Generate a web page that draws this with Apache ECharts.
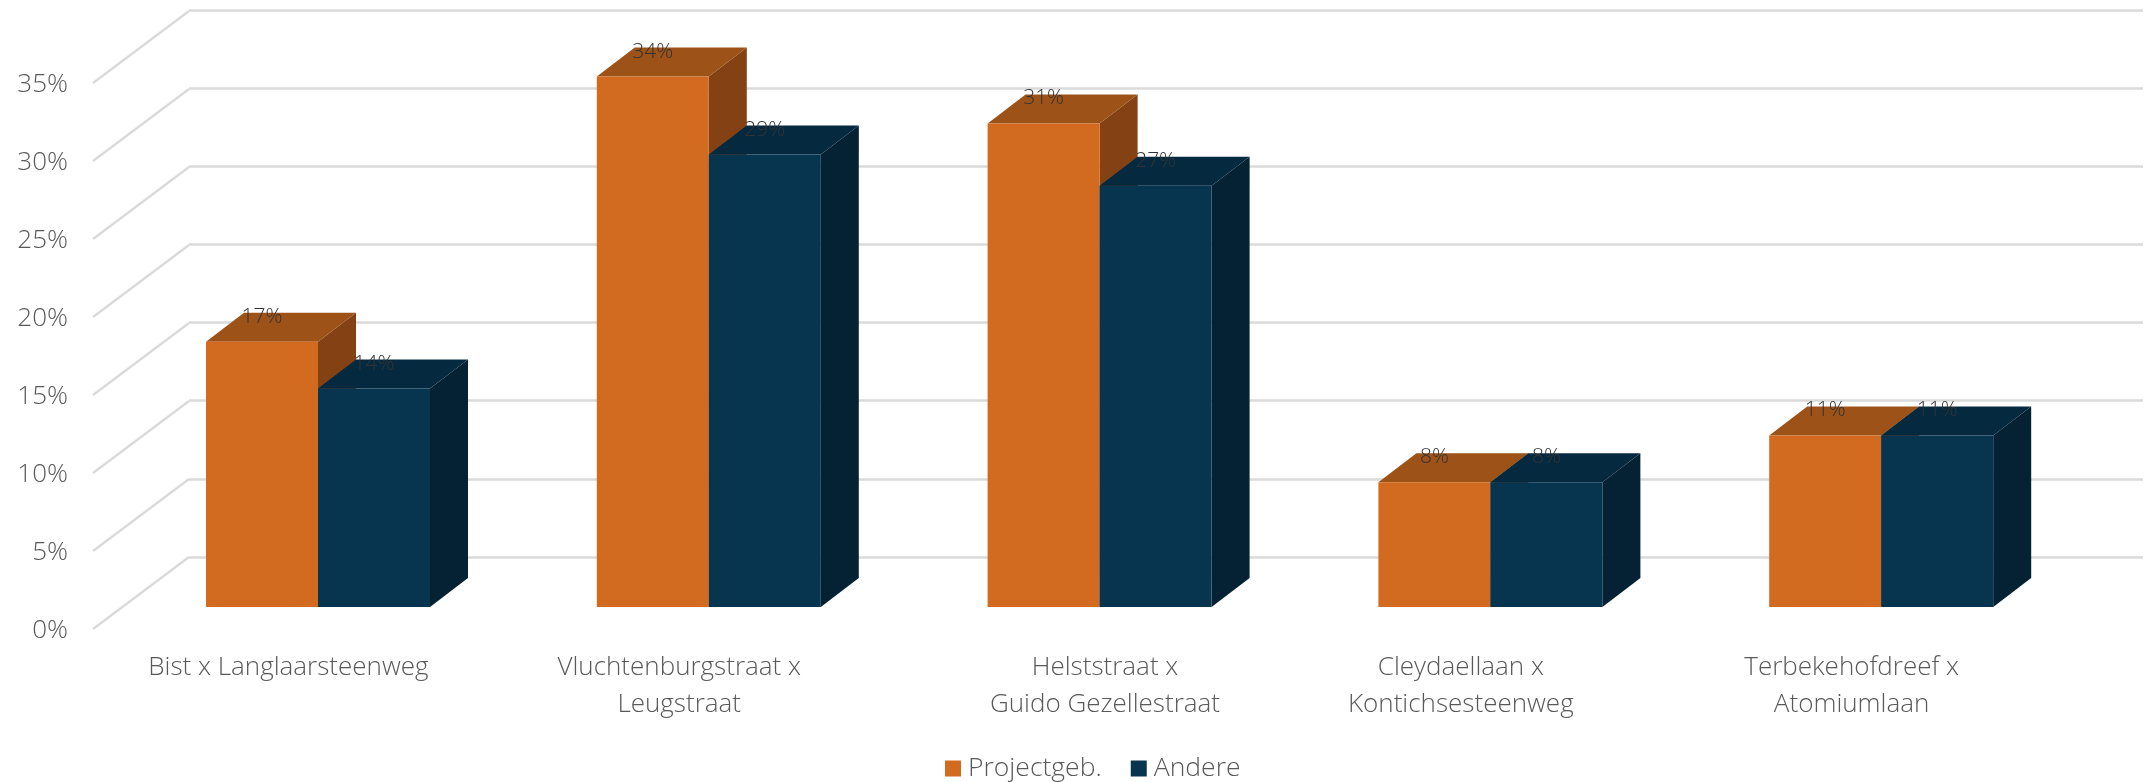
<!DOCTYPE html>
<html><head><meta charset="utf-8">
<style>html,body{margin:0;padding:0;background:#fff}#c{width:2151px;height:782px}</style>
<script src="https://cdn.jsdelivr.net/npm/echarts@6/dist/echarts.min.js"></script>
</head><body><div id="c"></div>
<script>
const categories = ['Bist x Langlaarsteenweg','Vluchtenburgstraat x\nLeugstraat','Helststraat x\nGuido Gezellestraat','Cleydaellaan x\nKontichsesteenweg','Terbekehofdreef x\nAtomiumlaan'];
const projectgeb = [17,34,31,8,11];
const andere = [14,29,27,8,11];
const ticks = [0,5,10,15,20,25,30,35];

const FONT = '"Open Sans", sans-serif';
const TEXT = '#595959';
const GRIDC = '#DADADA';
const W = 1954, H = 546;
const BAR_RATIO = 112 / 390.8, DX = 38, DY = 29;

function barSeries(name, data, idx, front, top, side) {
  return {
    name, type: 'custom', xAxisIndex: 1, yAxisIndex: 1, z: 5 + idx,
    itemStyle: { color: front },
    encode: { x: 0, y: 1 },
    data: data.map((v, i) => [i, v]),
    renderItem(params, api) {
      const c = api.value(0), v = api.value(1);
      const band = api.size([1, 0])[0], w = band * BAR_RATIO;
      const p = api.coord([c, v]), b = api.coord([c, 0]);
      const x0 = p[0] + (idx - 1) * w, x1 = x0 + w, yt = p[1], yb = b[1];
      return { type: 'group', children: [
        { type: 'polygon', shape: { points: [[x1, yt], [x1 + DX, yt - DY], [x1 + DX, yb - DY], [x1, yb]] }, style: { fill: side } },
        { type: 'polygon', shape: { points: [[x0, yt], [x0 + DX, yt - DY], [x1 + DX, yt - DY], [x1, yt]] }, style: { fill: top } },
        { type: 'rect', shape: { x: x0, y: yt, width: w, height: yb - yt }, style: { fill: front } },
        { type: 'text', z2: 50, style: { text: v + '%', x: x0 + w / 2, y: yt - 25, align: 'center', verticalAlign: 'middle',
            fill: '#333333', font: '300 21px ' + FONT } }
      ] };
    }
  };
}

// The third category label sits off-centre to the right in the reference.
const categoryItems = categories.map((value, i) => i === 2 ? { value, textStyle: { padding: [0, 0, 0, 70] } } : { value });

const option = {
  animation: false,
  backgroundColor: '#fff',
  textStyle: { fontFamily: FONT },
  legend: {
    data: ['Projectgeb.', 'Andere'], left: 940, top: 750, itemWidth: 16, itemHeight: 16, itemGap: 29,
    icon: 'rect', textStyle: { fontFamily: FONT, fontWeight: 300, fontSize: 26.5, color: TEXT, padding: [0, 0, 0, 2] }
  },
  grid: [
    { left: 93, top: 85, width: W, height: H },
    { left: 122.6, top: 61, width: W, height: H },
    { left: 189, top: 10, width: W, height: H + 1 }
  ],
  xAxis: [0, 1, 2].map(i => ({
    type: 'category', gridIndex: i, data: i === 0 ? categoryItems : categories,
    axisLine: { show: false }, axisTick: { show: false }, splitLine: { show: false },
    axisLabel: i === 0 ? { show: true, interval: 0, margin: 18, fontFamily: FONT, fontWeight: 300, fontSize: 26, lineHeight: 37, color: TEXT } : { show: false }
  })),
  yAxis: [0, 1, 2].map(i => ({
    type: 'value', gridIndex: i, min: 0, max: 35, interval: 5,
    axisLine: { show: false }, axisTick: { show: false },
    splitLine: { show: i === 2, lineStyle: { color: GRIDC, width: 2.5 } },
    axisLabel: i === 0 ? { show: true, margin: 25, formatter: '{value}%', fontFamily: FONT, fontWeight: 300, fontSize: 26, color: TEXT } : { show: false }
  })),
  series: [
    {
      name: 'wall', type: 'custom', xAxisIndex: 0, yAxisIndex: 0, z: 1, silent: true,
      data: ticks.map(t => [0, t]),
      renderItem(params, api) {
        const y = api.coord([0, api.value(1)])[1], x = params.coordSys.x;
        return { type: 'line', shape: { x1: x, y1: y - 2, x2: x + 96, y2: y - 74 }, style: { stroke: GRIDC, lineWidth: 2.2 } };
      }
    },
    barSeries('Projectgeb.', projectgeb, 0, '#D26A20', '#9D5218', '#844214'),
    barSeries('Andere', andere, 1, '#073550', '#052A40', '#042233')
  ]
};
echarts.init(document.getElementById('c'), null, { renderer: 'canvas' }).setOption(option);
</script></body></html>
